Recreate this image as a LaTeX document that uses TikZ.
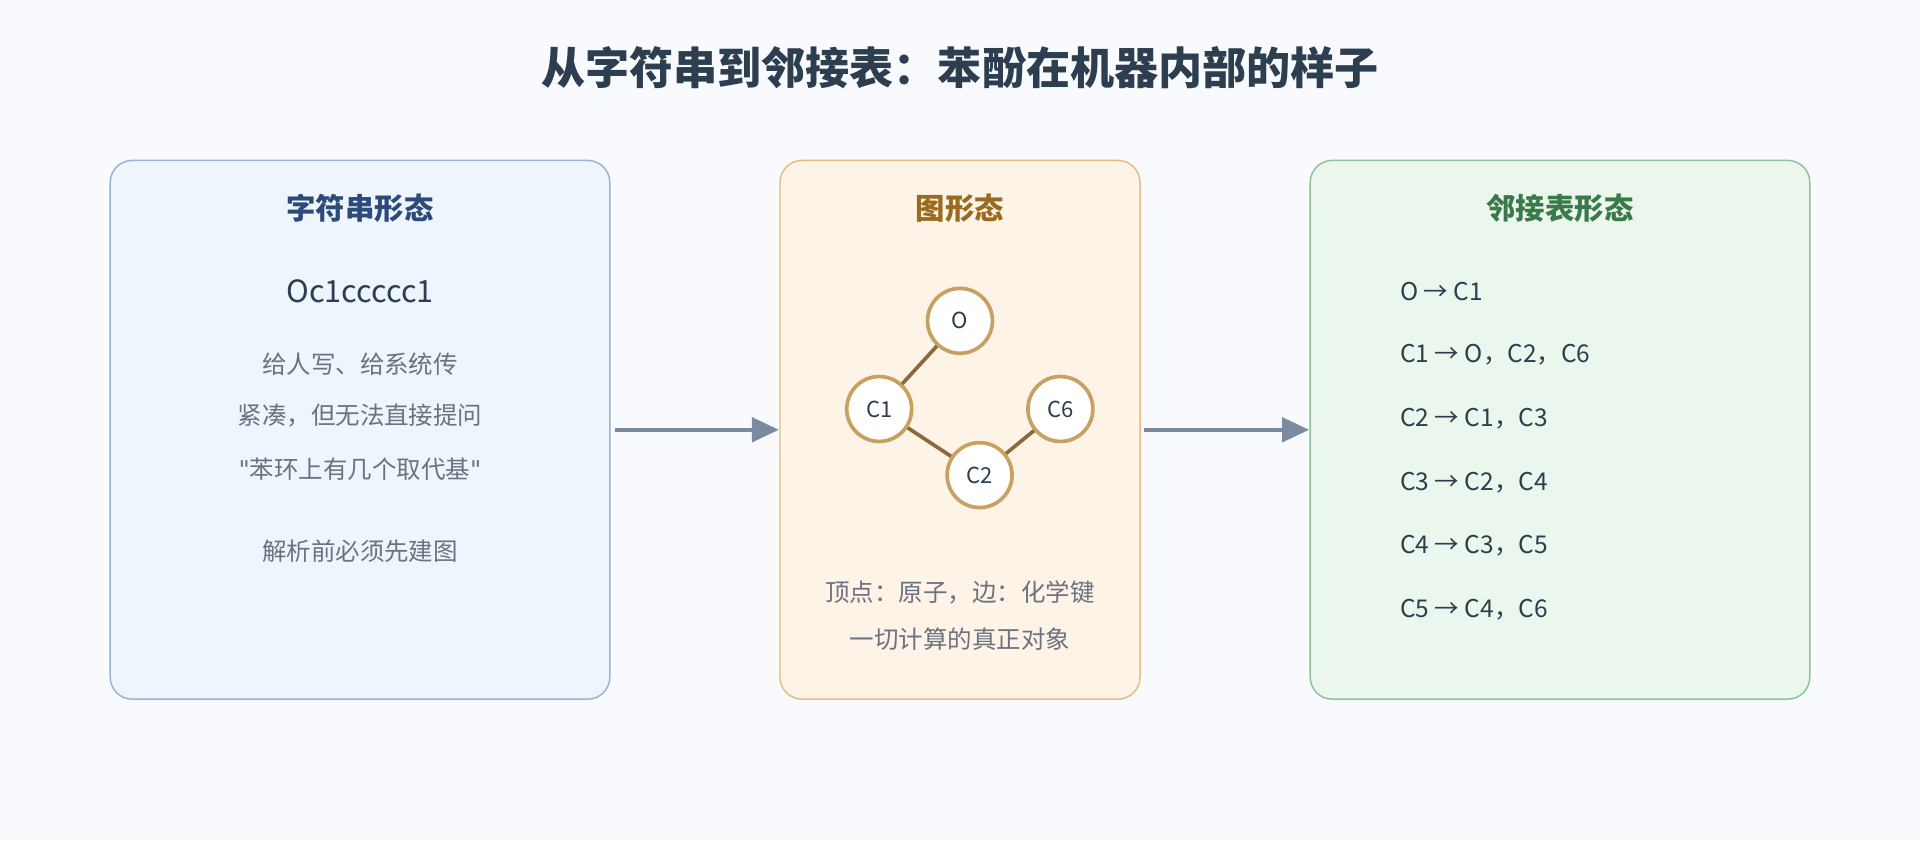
\documentclass[tikz,border=0pt]{standalone}
\usepackage{fontspec}
\setmainfont{Noto Sans CJK SC}
\newfontfamily\latinf{DejaVu Sans}
\usetikzlibrary{arrows.meta}
\definecolor{bgc}{HTML}{F8FAFD}
\definecolor{ink}{HTML}{2C3E50}
\definecolor{gtext}{HTML}{6B7280}
\definecolor{bluefill}{HTML}{EEF5FC}
\definecolor{blueline}{HTML}{9BB3D4}
\definecolor{bluetitle}{HTML}{2C4A7A}
\definecolor{orfill}{HTML}{FDF3E7}
\definecolor{orline}{HTML}{E0BD85}
\definecolor{ortitle}{HTML}{9A6A1E}
\definecolor{atomline}{HTML}{C8A060}
\definecolor{bondc}{HTML}{8A6A3A}
\definecolor{grfill}{HTML}{EBF6EC}
\definecolor{grline}{HTML}{8CC39A}
\definecolor{grtitle}{HTML}{3A7A4A}
\definecolor{arrc}{HTML}{7A8AA0}
\newcommand{\sq}{{\latinf\symbol{34}}}
\tikzset{
  panel/.style={draw, line width=1.2pt, rounded corners=18pt},
  ptitle/.style={font=\bfseries\fontsize{24}{28}\selectfont},
  note/.style={text=gtext, font=\fontsize{20}{24}\selectfont},
  adj/.style={text=ink, anchor=west, font=\fontsize{20}{24}\selectfont},
  atom/.style={draw=atomline, line width=3pt, circle, fill=white, minimum size=53pt, inner sep=0pt, text=ink, font=\fontsize{18}{22}\selectfont},
  bond/.style={bondc, line width=3pt},
  flow/.style={arrc, line width=3pt, -{Triangle[length=22pt,width=20pt]}}
}
\begin{document}
\begin{tikzpicture}[x=1pt,y=-1pt]
\fill[bgc] (0,0) rectangle (1568,686);
\useasboundingbox (0,0) rectangle (1568,686);

\node[text=ink, font=\bfseries\fontsize{36}{42}\selectfont] (title) at (784,55) {从字符串到邻接表：苯酚在机器内部的样子};

% string panel
\draw[panel, fill=bluefill, draw=blueline] (90,131) rectangle (498,571);
\node[ptitle, text=bluetitle] (stitle) at (294,170) {字符串形态};
\node[text=ink, font=\fontsize{25}{29}\selectfont] (smiles) at (294,238) {Oc1ccccc1};
\node[note] (s1) at (294,297) {给人写、给系统传};
\node[note] (s2) at (294,339) {紧凑，但无法直接提问};
\node[note] (s3) at (294,383) {\sq 苯环上有几个取代基\sq};
\node[note] (s4) at (294,450) {解析前必须先建图};

% graph panel
\draw[panel, fill=orfill, draw=orline] (637,131) rectangle (931,571);
\node[ptitle, text=ortitle] (gtitle) at (784,170) {图形态};
\node[atom] (O) at (784,262) {O};
\node[atom] (C1) at (718,334) {C1};
\node[atom] (C6) at (866,334) {C6};
\node[atom] (C2) at (800,388) {C2};
\draw[bond] (O) -- (C1);
\draw[bond] (C1) -- (C2);
\draw[bond] (C2) -- (C6);
\node[note] (g1) at (784,484) {顶点：原子，边：化学键};
\node[note] (g2) at (784,522) {一切计算的真正对象};

% adjacency panel
\draw[panel, fill=grfill, draw=grline] (1070,131) rectangle (1478,571);
\node[ptitle, text=grtitle] (atitle) at (1274,170) {邻接表形态};
\node[adj] (a1) at (1140,238) {O → C1};
\node[adj] (a2) at (1140,290) {C1 → O，C2，C6};
\node[adj] (a3) at (1140,342) {C2 → C1，C3};
\node[adj] (a4) at (1140,394) {C3 → C2，C4};
\node[adj] (a5) at (1140,446) {C4 → C3，C5};
\node[adj] (a6) at (1140,498) {C5 → C4，C6};

% arrows
\coordinate (p1) at (502,351);
\coordinate (p2) at (636,351);
\coordinate (p3) at (934,351);
\coordinate (p4) at (1069,351);
\draw[flow] (p1) -- (p2);
\draw[flow] (p3) -- (p4);
\end{tikzpicture}
\end{document}
